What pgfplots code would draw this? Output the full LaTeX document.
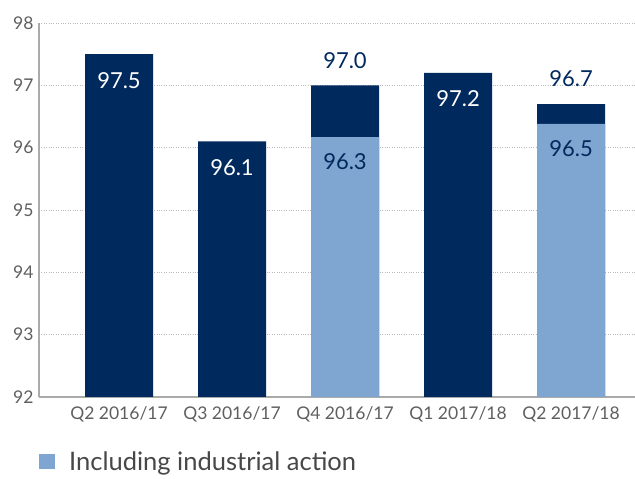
\documentclass[border=0pt]{standalone}
\usepackage{pgfplots}
\pgfplotsset{compat=1.18}
\usepackage{fontspec}
\setmainfont{Lato}
\definecolor{navy}{RGB}{0,42,94}
\definecolor{lightb}{RGB}{127,166,208}
\definecolor{tickg}{RGB}{95,95,95}
\definecolor{gridg}{RGB}{185,185,185}
\definecolor{axisg}{RGB}{170,170,170}
\begin{document}
\begin{tikzpicture}
\useasboundingbox (-39pt,-82pt) rectangle (596pt,397pt);
\begin{axis}[
  at={(0pt,0pt)}, anchor=south west,
  scale only axis, width=596pt, height=374pt,
  xmin=-0.708, xmax=4.566, ymin=92, ymax=98,
  ytick={92,93,94,95,96,97,98},
  xtick={0,1,2,3,4},
  xticklabels={Q2 2016/17,Q3 2016/17,Q4 2016/17,Q1 2017/18,Q2 2017/18},
  axis x line*=bottom, axis y line*=left,
  axis line style={axisg, line width=1.6pt},
  ymajorgrids, grid style={gridg, dotted, line width=0.9pt},
  major tick length=0pt,
  tick style={draw=none},
  ticklabel style={font=\fontsize{17.5}{17.5}\selectfont, text=tickg},
  /pgf/number format/assume math mode=true,
  yticklabel style={anchor=east, xshift=-2pt},
  xticklabel style={anchor=north, yshift=-6pt},
  ybar=0pt, bar width=68pt,
  clip=false,
  legend style={draw=none, fill=none, at={(0pt,-53pt)}, anchor=north west,
    font=\fontsize{25.5}{25.5}\selectfont, text=black!72, inner sep=0pt,
    /tikz/every even column/.append style={column sep=0pt}},
  legend cell align=left,
  legend image code/.code={\fill[lightb] (0pt,-7pt) rectangle (16pt,8pt);},
  every node near coord/.append style={font=\fontsize{22}{22}\selectfont, anchor=center},
]
% dark bars with labels inside
\addplot[fill=navy, draw=none, bar shift=0pt, forget plot,
  nodes near coords, point meta=explicit symbolic,
  every node near coord/.append style={text=white, yshift=-26pt}]
  coordinates {(0,97.5) [97.5] (1,96.1) [96.1] (3,97.2) [97.2]};
% dark bars with labels above
\addplot[fill=navy, draw=none, bar shift=0pt, forget plot,
  nodes near coords, point meta=explicit symbolic,
  every node near coord/.append style={text=navy, yshift=25pt}]
  coordinates {(2,97.0) [97.0] (4,96.7) [96.7]};
% light bars (including industrial action)
\addplot[fill=lightb, draw=none, bar shift=0pt,
  nodes near coords, point meta=explicit symbolic,
  every node near coord/.append style={text=navy, yshift=-25pt}]
  coordinates {(2,96.17) [96.3] (4,96.38) [96.5]};
\addlegendentry{\hspace{12pt}Including industrial action}
\end{axis}
\end{tikzpicture}
\end{document}
